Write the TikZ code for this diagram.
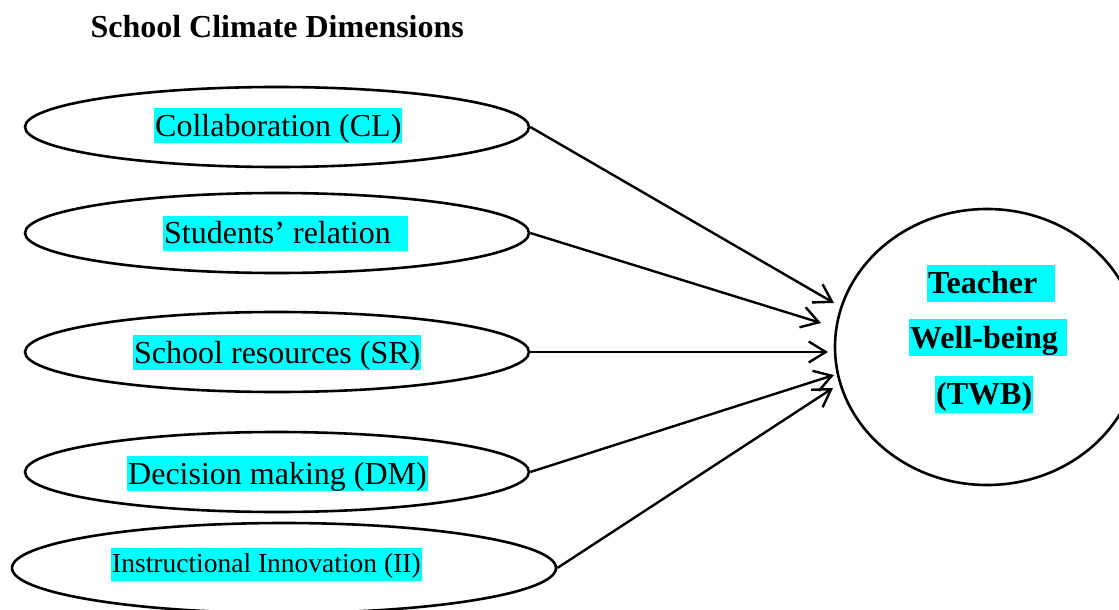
\documentclass[tikz,border=0pt]{standalone}
\usepackage{fontspec}
\setmainfont{Liberation Serif}
\usetikzlibrary{shapes.geometric,arrows.meta}
\definecolor{hlcyan}{HTML}{00FFFF}
\begin{document}
\begin{tikzpicture}[x=1pt,y=-1pt,
  oval/.style={draw,ellipse,line width=2.6pt,inner sep=0pt},
  hl/.style={fill=hlcyan,inner xsep=1pt,inner ysep=0pt,text height=28pt,text depth=7pt,anchor=west,font=\fontsize{32}{38}\selectfont},
  hlsmall/.style={hl,text height=25pt,text depth=8pt,font=\fontsize{27.5}{33}\selectfont},
  hlbold/.style={hl,text height=29pt,text depth=8pt,font=\fontsize{32}{38}\selectfont\bfseries},
  link/.style={line width=2.4pt,-{Straight Barb[length=17pt,width=21pt]}}
]
\useasboundingbox (0,0) rectangle (1119,610);
\node[anchor=base west,font=\fontsize{32}{38}\selectfont\bfseries] (title) at (87,38) {School Climate Dimensions};

\node[oval,minimum width=504pt,minimum height=80pt] (e1) at (277,127) {};
\node[oval,minimum width=504pt,minimum height=80pt] (e2) at (277,233) {};
\node[oval,minimum width=504pt,minimum height=80pt] (e3) at (277,352) {};
\node[oval,minimum width=504pt,minimum height=80pt] (e4) at (277,472) {};
\node[oval,minimum width=544pt,minimum height=90pt] (e5) at (284,568) {};

\node[hl] (t1) at (154,125.5) {Collaboration (CL)};
\node[hl] (t2) at (163,233) {Students’ relation\kern16pt};
\node[hl] (t3) at (133,352.5) {School resources (SR)};
\node[hl] (t4) at (127,473.5) {Decision making (DM)};
\node[hlsmall] (t5) at (111,564) {Instructional Innovation (II)};

\node[oval,minimum width=304pt,minimum height=276pt] (twb) at (987,347) {};
\node[hlbold] (w1) at (927,283) {Teacher\kern17pt};
\node[hlbold] (w2) at (909,337.5) {Well-being\kern8pt};
\node[hlbold] (w3) at (935,394) {(TWB)};

\coordinate (a1) at (834,303);
\coordinate (a2) at (821,323);
\coordinate (a3) at (828,352);
\coordinate (a4) at (834,375);
\coordinate (a5) at (833,388);

\draw[link] (e1.east) -- (a1);
\draw[link] (e2.east) -- (a2);
\draw[link] (e3.east) -- (a3);
\draw[link] (e4.east) -- (a4);
\draw[link] (e5.east) -- (a5);
\end{tikzpicture}
\end{document}
